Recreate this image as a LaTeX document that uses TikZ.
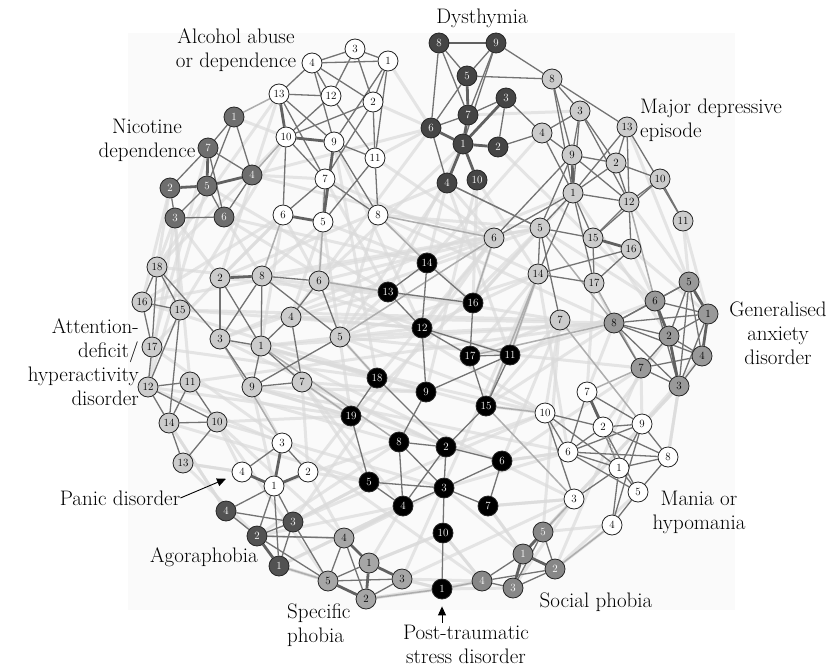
\documentclass[tikz,border=0pt]{standalone}
\usepackage{fontspec}
\usepackage{tikz}
\usetikzlibrary{arrows.meta}
\pgfdeclarelayer{panel}
\pgfdeclarelayer{links}
\pgfsetlayers{panel,links,main}
\tikzset{
    sym/.style={circle, draw=black!85, line width=0.8pt, minimum size=20pt, inner sep=0pt, font=\fontsize{11}{11}\selectfont},
    whitesym/.style={sym, fill=white},
    palesym/.style={sym, fill=black!20},
    midsym/.style={sym, fill=black!40},
    specsym/.style={sym, fill=black!35},
    socsym/.style={sym, fill=black!47, text=white},
    nicsym/.style={sym, fill=black!57, text=white},
    agosym/.style={sym, fill=black!68, text=white},
    dyssym/.style={sym, fill=black!73, text=white},
    blacksym/.style={sym, fill=black, text=white},
    clink/.style={draw=black!55, line width=1.3pt},
    heavylink/.style={draw=black!62, line width=2.8pt},
    faintlink/.style={draw=black!14, line width=3pt, opacity=0.7},
    softlink/.style={draw=black!32, line width=1.5pt},
    dotlink/.style={draw=black!35, line width=2pt, dotted},
    disname/.style={font=\fontsize{21}{24}\selectfont, inner sep=0pt},
    pointer/.style={-{Triangle[length=9pt,width=8pt]}, line width=0.9pt}
}

\begin{document}
\begin{tikzpicture}[x=1pt, y=-1pt]
    \useasboundingbox (0,0) rectangle (834,669);
    \begin{pgfonlayer}{panel}
        \fill[black!2] (128,33) rectangle (735,610);
    \end{pgfonlayer}

    % Alcohol abuse or dependence
    \node[whitesym] (al1) at (388,61) {1};
    \node[whitesym] (al2) at (373,102) {2};
    \node[whitesym] (al3) at (355,49) {3};
    \node[whitesym] (al4) at (312,63) {4};
    \node[whitesym] (al5) at (323,222) {5};
    \node[whitesym] (al6) at (283,215) {6};
    \node[whitesym] (al7) at (325,179) {7};
    \node[whitesym] (al8) at (378,215) {8};
    \node[whitesym] (al9) at (334,142) {9};
    \node[whitesym] (al10) at (286,137) {10};
    \node[whitesym] (al11) at (375,158) {11};
    \node[whitesym] (al12) at (331,96) {12};
    \node[whitesym] (al13) at (279,94) {13};

    % Nicotine dependence
    \node[nicsym] (ni1) at (234,117) {1};
    \node[nicsym] (ni2) at (170,188) {2};
    \node[nicsym] (ni3) at (175,218) {3};
    \node[nicsym] (ni4) at (252,175) {4};
    \node[nicsym] (ni5) at (207,186) {5};
    \node[nicsym] (ni6) at (224,217) {6};
    \node[nicsym] (ni7) at (208,148) {7};

    % Dysthymia
    \node[dyssym] (dy1) at (463,144) {1};
    \node[dyssym] (dy2) at (498,147) {2};
    \node[dyssym] (dy3) at (506,98) {3};
    \node[dyssym] (dy4) at (447,183) {4};
    \node[dyssym] (dy5) at (467,76) {5};
    \node[dyssym] (dy6) at (431,128) {6};
    \node[dyssym] (dy7) at (468,115) {7};
    \node[dyssym] (dy8) at (439,43) {8};
    \node[dyssym] (dy9) at (496,43) {9};
    \node[dyssym] (dy10) at (477,180) {10};

    % Major depressive episode
    \node[palesym] (md1) at (573,193) {1};
    \node[palesym] (md2) at (616,163) {2};
    \node[palesym] (md3) at (580,111) {3};
    \node[palesym] (md4) at (542,133) {4};
    \node[palesym] (md5) at (540,228) {5};
    \node[palesym] (md6) at (494,238) {6};
    \node[palesym] (md7) at (560,320) {7};
    \node[palesym] (md8) at (552,79) {8};
    \node[palesym] (md9) at (572,155) {9};
    \node[palesym] (md10) at (660,179) {10};
    \node[palesym] (md11) at (683,221) {11};
    \node[palesym] (md12) at (629,202) {12};
    \node[palesym] (md13) at (627,127) {13};
    \node[palesym] (md14) at (538,274) {14};
    \node[palesym] (md15) at (593,238) {15};
    \node[palesym] (md16) at (631,249) {16};
    \node[palesym] (md17) at (594,283) {17};

    % Generalised anxiety disorder
    \node[midsym] (ga1) at (708,314) {1};
    \node[midsym] (ga2) at (669,336) {2};
    \node[midsym] (ga3) at (679,386) {3};
    \node[midsym] (ga4) at (702,356) {4};
    \node[midsym] (ga5) at (689,282) {5};
    \node[midsym] (ga6) at (655,301) {6};
    \node[midsym] (ga7) at (641,368) {7};
    \node[midsym] (ga8) at (614,323) {8};

    % Mania or hypomania
    \node[whitesym] (ma1) at (619,468) {1};
    \node[whitesym] (ma2) at (603,427) {2};
    \node[whitesym] (ma3) at (574,499) {3};
    \node[whitesym] (ma4) at (612,525) {4};
    \node[whitesym] (ma5) at (638,492) {5};
    \node[whitesym] (ma6) at (568,452) {6};
    \node[whitesym] (ma7) at (587,392) {7};
    \node[whitesym] (ma8) at (668,457) {8};
    \node[whitesym] (ma9) at (642,424) {9};
    \node[whitesym] (ma10) at (545,413) {10};

    % Post-traumatic stress disorder
    \node[blacksym] (pt1) at (442,589) {1};
    \node[blacksym] (pt2) at (446,447) {2};
    \node[blacksym] (pt3) at (444,488) {3};
    \node[blacksym] (pt4) at (403,506) {4};
    \node[blacksym] (pt5) at (369,482) {5};
    \node[blacksym] (pt6) at (502,461) {6};
    \node[blacksym] (pt7) at (488,506) {7};
    \node[blacksym] (pt8) at (399,442) {8};
    \node[blacksym] (pt9) at (426,392) {9};
    \node[blacksym] (pt10) at (443,533) {10};
    \node[blacksym] (pt11) at (510,355) {11};
    \node[blacksym] (pt12) at (422,328) {12};
    \node[blacksym] (pt13) at (388,292) {13};
    \node[blacksym] (pt14) at (427,263) {14};
    \node[blacksym] (pt15) at (486,406) {15};
    \node[blacksym] (pt16) at (473,303) {16};
    \node[blacksym] (pt17) at (470,356) {17};
    \node[blacksym] (pt18) at (377,378) {18};
    \node[blacksym] (pt19) at (351,416) {19};

    % Attention-deficit/hyperactivity disorder
    \node[palesym] (ad1) at (261,346) {1};
    \node[palesym] (ad2) at (220,278) {2};
    \node[palesym] (ad3) at (220,339) {3};
    \node[palesym] (ad4) at (291,317) {4};
    \node[palesym] (ad5) at (340,337) {5};
    \node[palesym] (ad6) at (319,281) {6};
    \node[palesym] (ad7) at (302,382) {7};
    \node[palesym] (ad8) at (262,276) {8};
    \node[palesym] (ad9) at (252,387) {9};
    \node[palesym] (ad10) at (217,422) {10};
    \node[palesym] (ad11) at (190,382) {11};
    \node[palesym] (ad12) at (148,387) {12};
    \node[palesym] (ad13) at (183,463) {13};
    \node[palesym] (ad14) at (169,423) {14};
    \node[palesym] (ad15) at (180,310) {15};
    \node[palesym] (ad16) at (142,302) {16};
    \node[palesym] (ad17) at (152,347) {17};
    \node[palesym] (ad18) at (157,267) {18};

    % Panic disorder, agoraphobia
    \node[whitesym] (pa1) at (274,486) {1};
    \node[whitesym] (pa2) at (308,472) {2};
    \node[whitesym] (pa3) at (282,443) {3};
    \node[whitesym] (pa4) at (242,472) {4};
    \node[agosym] (ag1) at (279,566) {1};
    \node[agosym] (ag2) at (257,536) {2};
    \node[agosym] (ag3) at (293,522) {3};
    \node[agosym] (ag4) at (226,511) {4};

    % Specific phobia, social phobia
    \node[specsym] (sp1) at (369,563) {1};
    \node[specsym] (sp2) at (366,599) {2};
    \node[specsym] (sp3) at (402,579) {3};
    \node[specsym] (sp4) at (344,538) {4};
    \node[specsym] (sp5) at (328,581) {5};
    \node[socsym] (so1) at (523,554) {1};
    \node[socsym] (so2) at (555,569) {2};
    \node[socsym] (so3) at (513,588) {3};
    \node[socsym] (so4) at (482,581) {4};
    \node[socsym] (so5) at (543,532) {5};

    % Labels
    \node[disname, align=center] (alclab) at (236,50) {Alcohol abuse\\or dependence};
    \node[disname, align=center] (niclab) at (147,140) {Nicotine\\dependence};
    \node[disname] (dyslab) at (482,18) {Dysthymia};
    \node[disname, align=left, anchor=west] (mdelab) at (640,120) {Major depressive\\episode};
    \node[disname, align=center] (gadlab) at (778,333) {Generalised\\anxiety\\disorder};
    \node[disname, align=right, anchor=east] (adhdlab) at (139,362) {Attention-\\deficit/\\hyperactivity\\disorder};
    \node[disname] (paniclab) at (120,498) {Panic disorder};
    \node[disname] (agolab) at (204,557) {Agoraphobia};
    \node[disname, align=left, anchor=west] (speclab) at (287,625) {Specific\\phobia};
    \node[disname, align=center] (ptsdlab) at (466,644) {Post-traumatic\\stress disorder};
    \node[disname] (soclab) at (596,602) {Social phobia};
    \node[disname, align=center] (manialab) at (699,512) {Mania or\\hypomania};

    \draw[pointer, shorten >=7pt] (paniclab.east) -- (pa4);
    \draw[pointer, shorten >=7pt, shorten <=2pt] (pt1 |- ptsdlab.north) -- (pt1);

    \begin{pgfonlayer}{links}
    % Links between disorders
    \foreach \a/\b in {ad18/al13, ad18/ni3, ad16/md5, ad2/al6, ad8/al5, ad6/al7, ad6/md6, ad5/md14, ad4/pt13, ad1/pt12,
        ad3/ma10, ad9/pt19, ad7/pt9, ad12/pa3, ad14/ag4, ad10/sp4, ad13/ag2, ad11/ga8, ad17/so4, ad15/md7,
        ad5/ga7, ad1/ma3, ad3/md1, ad8/md5, ad2/dy4, ni3/ad2, ni6/ad8, ni6/pt14, ni4/md6, ni4/al7,
        ni2/ad16, ni3/ad15, ni5/pt13, ni6/ma10, ni4/dy6, ni1/al10, al6/ad6, al5/pt14, al8/md5, al8/pt16,
        al11/md6, al2/dy6, al1/dy6, al8/ga8, al5/ad4, al6/ad1, al7/md14, al10/ad15, al9/pt12, al5/pt19,
        al8/ad5, dy4/md6, dy6/al11, dy10/md14, dy4/pt14, dy2/ga6, dy10/pt16, dy1/ad6, dy4/ad5, dy4/pt11,
        dy6/ad4, md6/pt16, md14/pt11, md7/pt15, md7/ma10, md7/so5, md5/ga6, md12/ga5, md11/ga5, md16/ga1,
        md17/ga8, md14/pt15, md6/pt12, md1/ga2, md17/ma7, md14/ma6, md5/ad3, md7/pt6, md14/sp3, md6/ag3,
        ga8/ma7, ga7/ma9, ga3/ma8, ga8/pt15, ga7/pt6, ga6/pt11, ga8/ad5, ga3/so5, ga2/ma2, ga7/so2,
        ga8/ad1, ma10/pt15, ma6/pt6, ma3/so5, ma3/pt7, ma10/pt2, ma6/pt3, ma4/so2, ma3/sp3, ma10/ag3,
        ma6/ad9, pt19/ad10, pt18/ad1, pt5/ag3, pt4/sp1, pt10/so4, pt1/sp3, pt1/so4, pt7/so1, pt13/ad5,
        pt5/ad7, pt19/pa2, pt8/ag2, pt3/sp4, pt10/sp1, pt4/ag1, pt7/ma3, pt6/ma6, pt2/ad7, pt9/ad9,
        pt12/ad4, pt16/md5, pt17/md14, pt11/ga8, pa2/pt5, pa3/ad9, pa4/ad13, pa1/pt8, pa2/sp4, ag4/ad14,
        ag1/sp5, ag3/pt5, ag2/pt4, sp4/pt4, sp3/pt1, sp3/so4, sp2/so4, sp1/pt10, sp5/ad10, so4/pt10,
        so1/ma3, so5/ma4, so1/pt7, so3/ma3, so2/ma5, so5/ga3, so1/pt3, ad16/al6, ad12/ni3, ni2/ad18,
        al13/ad2, md3/dy7, md4/pt14, md13/ga5, md16/ga6, md11/ga1, ma8/ga3, ma9/ga4, pt14/md6, pt16/md1,
        ad9/pa1, ad10/pa4, ad7/pa2, sp5/ag1, sp2/pt1, so3/pt1, ag1/pt4, ad13/pa4, pt19/ad7, pt18/ad5,
        ad18/pt13, ad16/pt9, ad15/pt12, ad17/pt18, ad12/pt19, ad11/pt8, ad14/pt5, ad10/pt3, ad2/pt16, ad8/pt11,
        ad6/md7, ad4/ga8, ad5/ma10, ad3/pt2, ad1/pt15, ad9/pt6, ad7/pt4, ni7/ad17, ni5/ad12, ni3/ad11,
        al6/ad17, al10/ad18, al7/pt13, al9/pt18, dy1/pt13, dy10/pt9, md6/pt18, md5/pt19, md14/pt12, md7/pt17}
        \draw[faintlink] (\a) -- (\b);
    \foreach \a/\b in {al13/ni1, al10/ni4, al6/ad8, md5/ga8, md7/ma9, dy4/md5, md14/pt15, md17/ga7, ma10/pt15,
        ma3/so5, ad5/pt18, ad7/pt19, ag1/sp5, sp4/ag2, so4/pt1, pt1/sp2, ma4/so2, pt11/md14, pt16/md6,
        ad6/pt13, ad5/md6, al8/pt14, md6/al8, pt17/ga8, pt15/ma3, ad3/pa3, ad1/pt8, al5/ad6, md12/ga6, ga7/ma7}
        \draw[softlink] (\a) -- (\b);

    % Links within disorders
    \foreach \a/\b in {4/3, 4/1, 3/1, 3/2, 1/2, 1/11, 4/13, 4/12, 4/9, 4/2, 13/12, 13/9, 13/7, 12/11, 12/10,
        2/10, 2/7, 2/11, 10/7, 10/6, 9/11, 9/8, 7/5, 7/8, 11/8, 11/5, 6/7, 3/12, 1/9}
        \draw[clink] (al\a) -- (al\b);
    \foreach \a/\b in {10/9, 6/5, 9/5, 13/10}
        \draw[heavylink] (al\a) -- (al\b);
    \foreach \a/\b in {1/7, 1/4, 7/4, 7/2, 2/3, 5/3, 5/6, 4/6, 3/6, 1/5, 7/6}
        \draw[clink] (ni\a) -- (ni\b);
    \foreach \a/\b in {7/5, 2/5, 5/4}
        \draw[heavylink] (ni\a) -- (ni\b);
    \foreach \a/\b in {8/6, 8/5, 9/5, 9/1, 5/6, 6/4, 3/7, 3/2, 7/6, 8/7, 9/7}
        \draw[clink] (dy\a) -- (dy\b);
    \foreach \a/\b in {8/9, 5/7, 3/1, 7/1, 6/1, 1/2, 1/4, 1/10}
        \draw[heavylink] (dy\a) -- (dy\b);
    \foreach \a/\b in {dy9/md8, dy5/md8, dy3/md4, dy2/md4, dy4/md5}
        \draw[clink] (\a) -- (\b);
    \foreach \a/\b in {8/9, 8/13, 8/1, 8/3, 3/4, 3/9, 3/1, 3/2, 3/12, 13/12, 13/2, 13/1, 13/11, 4/9, 4/1,
        9/2, 9/5, 9/12, 2/1, 2/12, 2/10, 1/12, 1/15, 1/5, 1/6, 1/17, 10/11, 10/12, 10/15, 12/15, 12/16,
        15/17, 16/17, 16/14, 5/7, 5/14, 1/14, 17/14, 5/15, 6/9}
        \draw[clink] (md\a) -- (md\b);
    \foreach \a/\b in {9/1, 15/16}
        \draw[heavylink] (md\a) -- (md\b);
    \foreach \a/\b in {5/6, 5/2, 5/4, 5/3, 5/8, 6/8, 6/3, 6/1, 1/2, 1/8, 8/2, 8/4, 8/7, 8/3, 2/4, 2/7,
        4/3, 4/7, 7/3, 1/3}
        \draw[clink] (ga\a) -- (ga\b);
    \foreach \a/\b in {6/2, 2/3, 5/1, 1/4}
        \draw[heavylink] (ga\a) -- (ga\b);
    \foreach \a/\b in {7/6, 7/9, 7/1, 10/2, 10/3, 10/1, 2/9, 2/6, 2/8, 2/5, 9/6, 9/1, 9/8, 9/4, 6/1, 6/8,
        1/8, 1/5, 1/3, 1/4, 5/8, 5/4, 6/5, 10/6}
        \draw[clink] (ma\a) -- (ma\b);
    \draw[heavylink] (ma7) -- (ma2);
    \draw[dotlink] (ma2) -- (ma1);
    \foreach \a/\b in {14/13, 14/16, 14/12, 13/12, 13/16, 16/17, 12/11, 12/17, 12/9, 17/11, 17/15, 11/9,
        11/15, 18/19, 18/2, 9/8, 19/5, 8/2, 8/3, 15/2, 2/3, 2/6, 2/4, 6/3, 6/7, 5/3, 5/4, 3/7, 3/10,
        10/1, 4/3, 8/4}
        \draw[clink] (pt\a) -- (pt\b);
    \foreach \a/\b in {18/16, 18/15, 18/17, 16/15, 16/17, 17/12, 15/12, 12/11, 12/14, 12/10, 11/10, 11/14,
        14/10, 14/13, 10/13, 2/3, 8/6, 8/1, 8/3, 8/5, 6/4, 6/5, 4/1, 4/7, 3/1, 3/9, 1/9, 1/7, 9/7, 9/5,
        18/3, 2/1, 15/14}
        \draw[clink] (ad\a) -- (ad\b);
    \draw[heavylink] (ad2) -- (ad8);
    \foreach \a/\b in {pa3/pa2, pa4/pa3, pa1/ag4, pa1/ag2, pa1/ag3, pa1/ag1, ag4/ag2, ag4/ag3, ag2/ag3,
        ag3/ag1, ag2/sp4, ag3/sp5, ag2/sp5, sp4/sp2, sp4/sp5, sp1/sp5, sp5/sp3, sp2/sp3,
        so5/so2, so5/so3, so1/so4, so4/so3, so4/so2, so3/so2}
        \draw[clink] (\a) -- (\b);
    \foreach \a/\b in {pa3/pa1, pa4/pa1, pa2/pa1, ag2/ag1, sp4/sp1, sp1/sp3, sp1/sp2, sp5/sp2,
        so5/so1, so1/so2, so1/so3}
        \draw[heavylink] (\a) -- (\b);
    \end{pgfonlayer}
\end{tikzpicture}
\end{document}
